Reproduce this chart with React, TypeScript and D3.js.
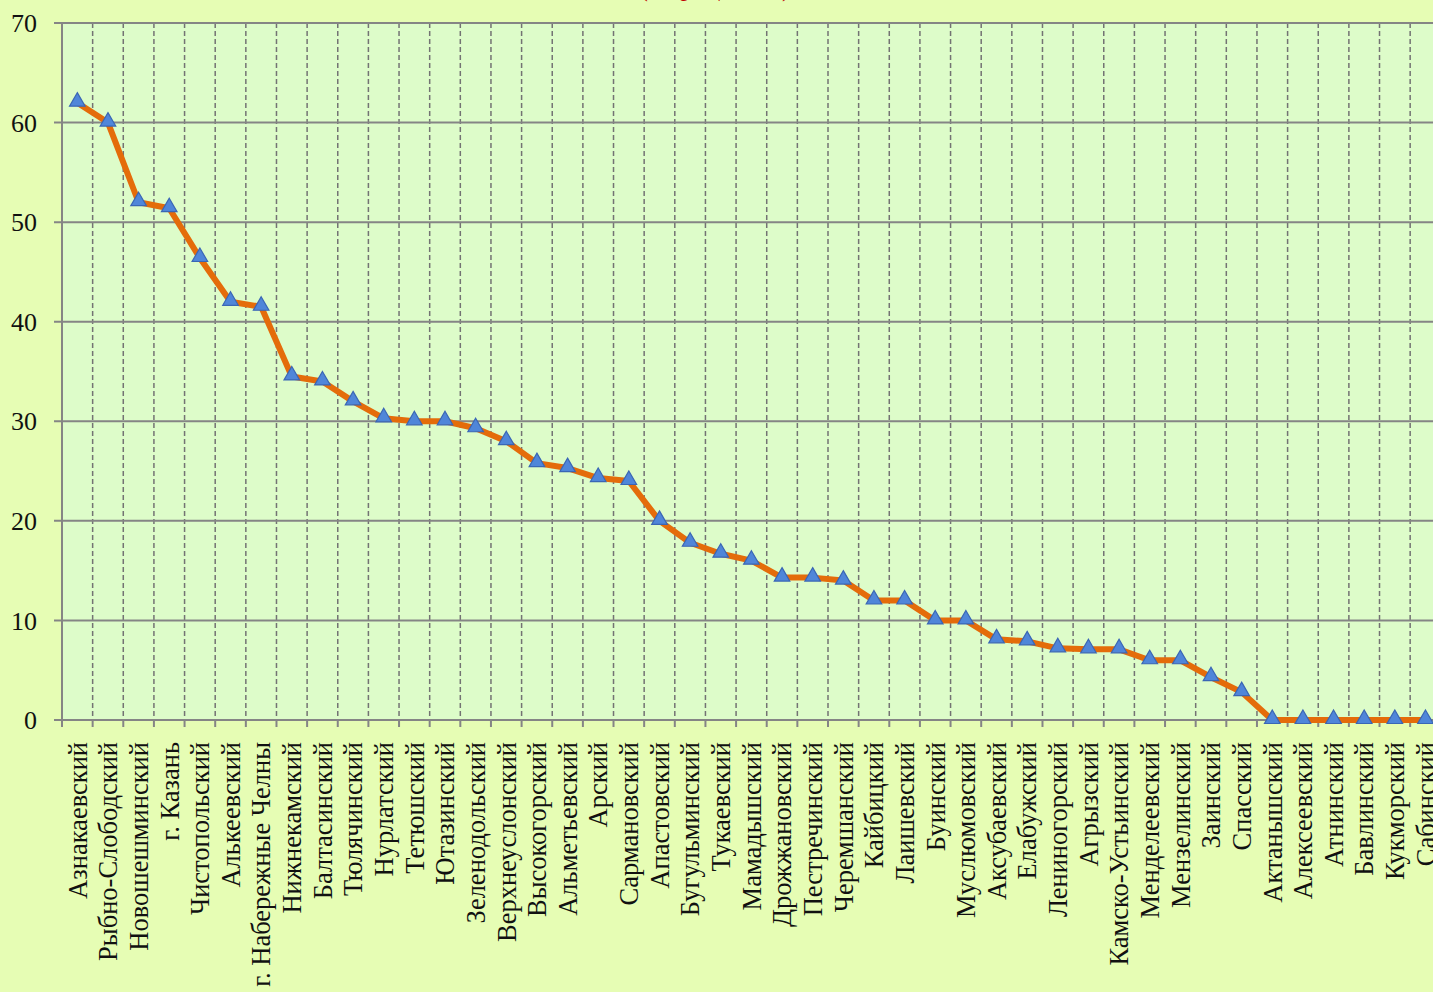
import React from "react";
import * as d3 from "d3";

const categories = [
  "Азнакаевский", "Рыбно-Слободский", "Новошешминский", "г. Казань", "Чистопольский",
  "Алькеевский", "г. Набережные Челны", "Нижнекамский", "Балтасинский", "Тюлячинский",
  "Нурлатский", "Тетюшский", "Ютазинский", "Зеленодольский", "Верхнеуслонский",
  "Высокогорский", "Альметьевский", "Арский", "Сармановский", "Апастовский",
  "Бугульминский", "Тукаевский", "Мамадышский", "Дрожжановский", "Пестречинский",
  "Черемшанский", "Кайбицкий", "Лаишевский", "Буинский", "Муслюмовский",
  "Аксубаевский", "Елабужский", "Лениногорский", "Агрызский", "Камско-Устьинский",
  "Менделеевский", "Мензелинский", "Заинский", "Спасский", "Актанышский",
  "Алексеевский", "Атнинский", "Бавлинский", "Кукморский", "Сабинский",
];

const values = [
  62, 60, 52, 51.4, 46.4,
  42, 41.5, 34.5, 34, 32,
  30.3, 30, 30, 29.3, 28,
  25.8, 25.3, 24.3, 24, 20,
  17.8, 16.7, 16, 14.3, 14.3,
  14, 12, 12, 10, 10,
  8.1, 7.9, 7.2, 7.1, 7.1,
  6, 6, 4.3, 2.8, 0,
  0, 0, 0, 0, 0,
];

const yTicks = [0, 10, 20, 30, 40, 50, 60, 70];
const titleText = "(в процентах)";

export default function App() {
  const W = 1433;
  const H = 992;
  const left = 62;
  const step = 30.64;
  const right = left + step * categories.length;
  const top = 23;
  const bottom = 720;

  const x = d3.scaleBand<string>().domain(categories).range([left, right]).padding(0);
  const y = d3.scaleLinear().domain([0, 70]).range([bottom, top]);
  const cx = (c: string) => (x(c) ?? 0) + x.bandwidth() / 2;

  const line = d3
    .line<number>()
    .x((_, i) => cx(categories[i]))
    .y((d) => y(d));

  const tri = d3.symbol().type(d3.symbolTriangle).size(105)();

  const font = "'Liberation Serif', 'Times New Roman', serif";

  return (
    <svg
      width={W}
      height={H}
      style={{ position: "absolute", left: 0, top: 0, display: "block" }}
      fontFamily={font}
    >
      <rect x={0} y={0} width={W} height={H} fill="#e6fdb4" />
      <text x={715} y={-4} textAnchor="middle" fontSize={26} fill="#c00000">
        {titleText}
      </text>
      <rect x={left} y={top} width={right - left} height={bottom - top} fill="#ddfcc9" />
      {categories.map((c, i) =>
        i === 0 ? null : (
          <line
            key={"v" + i}
            x1={x(c)}
            x2={x(c)}
            y1={top}
            y2={bottom}
            stroke="#737373"
            strokeWidth={1.5}
            strokeDasharray="5,3"
          />
        )
      )}
      {yTicks.map((t) => (
        <line
          key={"h" + t}
          x1={left - 8}
          x2={right}
          y1={y(t)}
          y2={y(t)}
          stroke="#858585"
          strokeWidth={2}
        />
      ))}
      <line x1={left} x2={left} y1={top} y2={bottom + 7} stroke="#858585" strokeWidth={2} />
      {categories.map((c, i) =>
        i === 0 ? null : (
          <line key={"xt" + i} x1={x(c)} x2={x(c)} y1={bottom} y2={bottom + 7} stroke="#858585" strokeWidth={2} />
        )
      )}
      {yTicks.map((t) => (
        <text key={"yl" + t} x={37} y={y(t)} dy="0.35em" textAnchor="end" fontSize={26} fill="#111">
          {t}
        </text>
      ))}
      {categories.map((c) => (
        <text
          key={"xl" + c}
          transform={`translate(${cx(c)},${bottom + 22}) rotate(-90)`}
          textAnchor="end"
          dy="0.35em"
          fontSize={26.5}
          fill="#111"
        >
          {c}
        </text>
      ))}
      <path d={line(values) ?? ""} fill="none" stroke="#e46c0a" strokeWidth={6} strokeLinejoin="round" />
      {values.map((v, i) => (
        <path
          key={"m" + i}
          d={tri ?? ""}
          transform={`translate(${cx(categories[i])},${y(v) - 1})`}
          fill="#4f86d9"
          stroke="#3a66b5"
          strokeWidth={1.2}
        />
      ))}
    </svg>
  );
}
